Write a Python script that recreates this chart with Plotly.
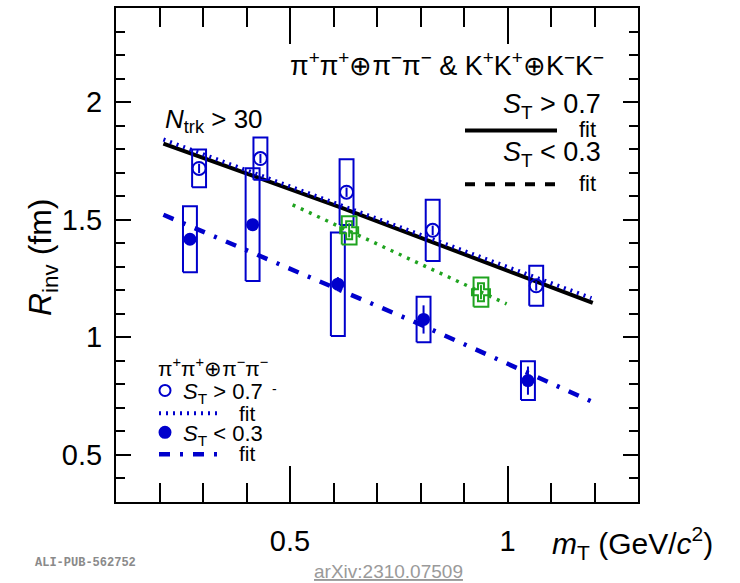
import plotly.graph_objects as go

# ---------------- data ----------------
# pi+pi+ (+) pi-pi-, S_T > 0.7 (open circles)
mt_pi_hi = [0.291, 0.432, 0.630, 0.828, 1.066]
r_pi_hi = [1.718, 1.760, 1.617, 1.455, 1.219]
stat_pi_hi = [0.02, 0.02, 0.02, 0.02, 0.02]
sys_pi_hi = [0.08, 0.09, 0.14, 0.13, 0.085]

# pi+pi+ (+) pi-pi-, S_T < 0.3 (filled circles)
mt_pi_lo = [0.270, 0.414, 0.610, 0.807, 1.047]
r_pi_lo = [1.417, 1.479, 1.226, 1.076, 0.816]
stat_pi_lo = [0.02, 0.02, 0.03, 0.06, 0.06]
sys_pi_lo = [0.14, 0.24, 0.22, 0.097, 0.082]

# K+K+ (+) K-K-, S_T > 0.7 (green open crosses)
mt_k_hi = [0.636, 0.939]
r_k_hi = [1.455, 1.192]
stat_k_hi = [0.03, 0.03]
sys_k_hi = [0.06, 0.062]

# fits
fit_all_hi_x = [0.209, 0.613, 1.196]
fit_all_hi_y = [1.823, 1.555, 1.146]
fit_pi_hi_x = [0.209, 0.775, 1.193]
fit_pi_hi_y = [1.841, 1.451, 1.167]
fit_pi_lo_x = [0.209, 0.782, 1.196]
fit_pi_lo_y = [1.521, 1.069, 0.725]
fit_k_hi_x = [0.506, 0.998]
fit_k_hi_y = [1.563, 1.142]

BLUE = "#0000cc"
GREEN = "#1fa31f"
FONT = "Liberation Sans, Arial, sans-serif"


def box_path(xs, ys, es, hw):
    px, py = [], []
    for x, y, e in zip(xs, ys, es):
        px += [x - hw, x + hw, x + hw, x - hw, x - hw, None]
        py += [y - e, y - e, y + e, y + e, y - e, None]
    return px, py


fig = go.Figure()

# fit lines
fig.add_trace(go.Scatter(x=fit_k_hi_x, y=fit_k_hi_y, mode="lines",
                         line=dict(color=GREEN, width=3.5, dash="3px,6px"), hoverinfo="skip"))
fig.add_trace(go.Scatter(x=fit_pi_lo_x, y=fit_pi_lo_y, mode="lines",
                         line=dict(color=BLUE, width=4.5, dash="11px,10px,3px,10px"), hoverinfo="skip"))
fig.add_trace(go.Scatter(x=fit_all_hi_x, y=fit_all_hi_y, mode="lines",
                         line=dict(color="black", width=4), hoverinfo="skip"))
fig.add_trace(go.Scatter(x=fit_pi_hi_x, y=fit_pi_hi_y, mode="lines",
                         line=dict(color=BLUE, width=4, dash="2px,5px"), hoverinfo="skip"))

# systematic boxes
for xs, ys, es, col, hw in [(mt_pi_hi, r_pi_hi, sys_pi_hi, BLUE, 0.016),
                            (mt_pi_lo, r_pi_lo, sys_pi_lo, BLUE, 0.016),
                            (mt_k_hi, r_k_hi, sys_k_hi, GREEN, 0.017)]:
    bx, by = box_path(xs, ys, es, hw)
    fig.add_trace(go.Scatter(x=bx, y=by, mode="lines", line=dict(color=col, width=2),
                             hoverinfo="skip"))

# points
fig.add_trace(go.Scatter(x=mt_pi_lo, y=r_pi_lo, mode="markers",
                         marker=dict(symbol="circle", size=13, color=BLUE),
                         error_y=dict(type="data", array=stat_pi_lo, color=BLUE, thickness=2, width=0)))
fig.add_trace(go.Scatter(x=mt_pi_hi, y=r_pi_hi, mode="markers",
                         marker=dict(symbol="circle-open", size=13, color=BLUE, line=dict(width=2)),
                         error_y=dict(type="data", array=stat_pi_hi, color=BLUE, thickness=2, width=0)))
fig.add_trace(go.Scatter(x=mt_k_hi, y=r_k_hi, mode="markers",
                         marker=dict(symbol="cross-open", size=15, color=GREEN, line=dict(width=2)),
                         error_y=dict(type="data", array=stat_k_hi, color=GREEN, thickness=2, width=0)))


def px2paper(px, py):
    return (px - 116) / 522.0, (502 - py) / 496.0


annots = []


def txt(text, px, py, size, xanchor="left", yanchor="middle", **kw):
    x, y = px2paper(px, py)
    d = dict(text=text, x=x, y=y, xref="paper", yref="paper", showarrow=False,
             xanchor=xanchor, yanchor=yanchor,
             font=dict(family=kw.pop("family", FONT), size=size, color=kw.pop("color", "black")))
    d.update(kw)
    annots.append(d)


txt("π<sup>+</sup>π<sup>+</sup>⊕π<sup>−</sup>π<sup>−</sup> &amp; K<sup>+</sup>K<sup>+</sup>⊕K<sup>−</sup>K<sup>−</sup>",
    606, 62, 27, xanchor="right")
txt("<i>N</i><sub>trk</sub> &gt; 30", 163, 119, 26)
txt("<i>S</i><sub>T</sub> &gt; 0.7", 603, 104, 27, xanchor="right")
txt("fit", 598, 128, 22, xanchor="right")
txt("<i>S</i><sub>T</sub> &lt; 0.3", 603, 153, 27, xanchor="right")
txt("fit", 598, 182, 22, xanchor="right")

txt("π<sup>+</sup>π<sup>+</sup>⊕π<sup>−</sup>π<sup>−</sup>", 156, 366, 21)
txt("<i>S</i><sub>T</sub> &gt; 0.7", 181, 393, 22)
txt("-", 270, 389, 14)
txt("fit", 237, 413, 21)
txt("<i>S</i><sub>T</sub> &lt; 0.3", 181, 435, 22)
txt("fit", 237, 453, 21)

txt("<i>R</i><sub>inv</sub> (fm)", 43, 257, 32, xanchor="center", textangle=-90)
txt("<i>m</i><sub>T</sub> (GeV/<i>c</i><sup>2</sup>)", 715, 543, 30, xanchor="right")

txt("<b>ALI-PUB-562752</b>", 33, 563, 12, family="Liberation Mono, Courier New, monospace", color="#8a8a8a")
txt("<u>arXiv:2310.07509</u>", 388, 572, 19, xanchor="center", color="#9a9a9a")

shapes = []


def hline(px0, px1, py, color, width, dash="solid"):
    x0, y = px2paper(px0, py)
    x1, _ = px2paper(px1, py)
    shapes.append(dict(type="line", xref="paper", yref="paper", x0=x0, x1=x1, y0=y, y1=y,
                       line=dict(color=color, width=width, dash=dash)))


def marker_shape(px, py, r, filled):
    x, y = px2paper(px, py)
    shapes.append(dict(type="circle", xref="paper", yref="paper", xsizemode="pixel", ysizemode="pixel",
                       xanchor=x, yanchor=y, x0=-r, x1=r, y0=-r, y1=r,
                       line=dict(color=BLUE, width=2),
                       fillcolor=BLUE if filled else "rgba(0,0,0,0)"))


hline(465, 557, 129, "black", 4)
hline(465, 557, 183, "black", 4, dash="10px,10px")
hline(159, 222, 413, BLUE, 4, dash="2px,5px")
hline(159, 220, 454, BLUE, 4.5, dash="11px,10px,3px,10px")
marker_shape(165, 390, 5.5, False)
marker_shape(165, 432, 5.5, True)

axis_common = dict(showline=True, linecolor="black", linewidth=2, mirror="ticks",
                   ticks="inside", tickcolor="black", tickwidth=2, showgrid=False, zeroline=False,
                   tickfont=dict(family=FONT, size=29, color="black"), tick0=0, dtick=0.5)

fig.update_layout(
    width=740, height=583,
    margin=dict(l=116, r=102, t=6, b=81),
    paper_bgcolor="white", plot_bgcolor="white",
    showlegend=False,
    xaxis=dict(range=[0.1, 1.3], ticklen=36, ticklabelstandoff=12,
               minor=dict(dtick=0.1, tick0=0, ticklen=19, tickwidth=2, tickcolor="black", ticks="inside"),
               **axis_common),
    yaxis=dict(range=[0.3, 2.4], ticklen=15, ticklabelstandoff=6,
               minor=dict(dtick=0.1, tick0=0, ticklen=9, tickwidth=2, tickcolor="black", ticks="inside"),
               **axis_common),
    annotations=annots,
    shapes=shapes,
)

fig.write_html("out.html")
